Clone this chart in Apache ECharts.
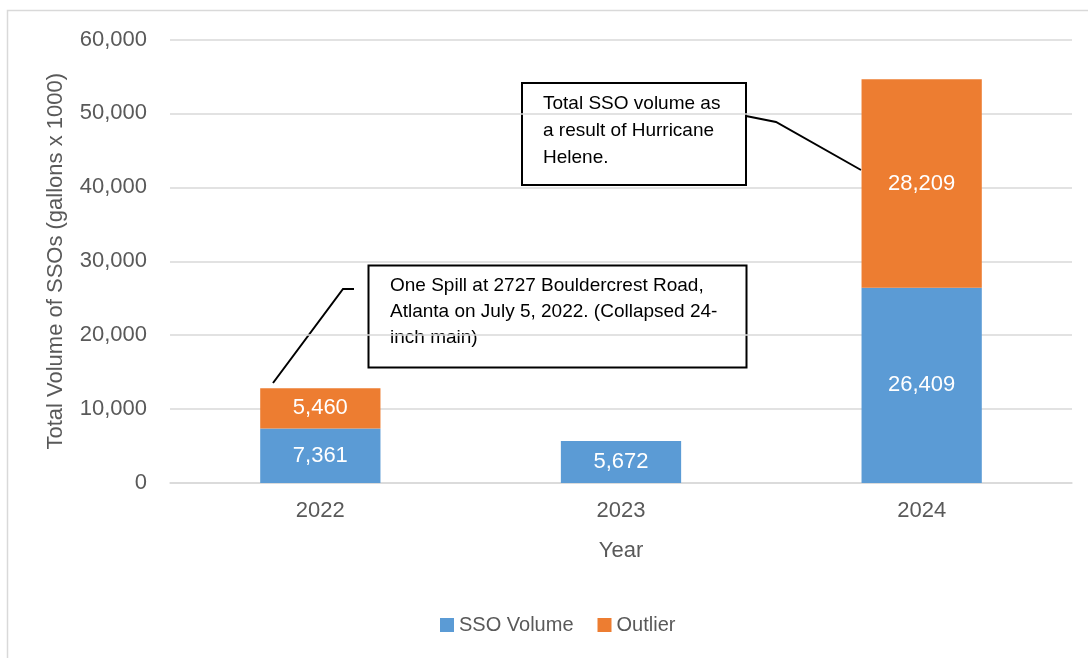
<!DOCTYPE html>
<html>
<head>
<meta charset="utf-8">
<script src="https://cdn.jsdelivr.net/npm/echarts@6/dist/echarts.min.js"></script>
<style>
  html, body { margin: 0; padding: 0; background: #fff; }
  #main { width: 1088px; height: 658px; }
</style>
</head>
<body>
<div id="main"></div>
<script>
// data
var years = ['2022', '2023', '2024'];
var ssoVolume = [7361, 5672, 26409];
var outlier = [5460, null, 28209];
var yTicks = [0, 10000, 20000, 30000, 40000, 50000, 60000];

var fontFam = '"Liberation Sans", Arial, sans-serif';
var grey = '#595959';

function fmt(v) {
  return v == null ? '' : v.toLocaleString('en-US');
}

var myChart = echarts.init(document.getElementById('main'));

myChart.setOption({
  animation: false,
  textStyle: { fontFamily: fontFam },
  grid: { left: 170, right: 16, top: 39.5, bottom: 175, containLabel: false },
  legend: {
    left: 435,
    top: 610,
    itemWidth: 14,
    itemHeight: 14,
    itemGap: 24,
    icon: 'rect',
    textStyle: { color: grey, fontSize: 20, fontFamily: fontFam },
    data: ['SSO Volume', 'Outlier']
  },
  xAxis: {
    type: 'category',
    data: years,
    name: 'Year',
    nameLocation: 'middle',
    nameGap: 57,
    nameTextStyle: { color: grey, fontSize: 22 },
    axisLine: { show: true, lineStyle: { color: '#d9d9d9', width: 1.5 } },
    axisTick: { show: false },
    axisLabel: { color: grey, fontSize: 22, margin: 17 }
  },
  yAxis: {
    type: 'value',
    min: yTicks[0],
    max: yTicks[yTicks.length - 1],
    interval: yTicks[1] - yTicks[0],
    name: 'Total Volume of SSOs (gallons x 1000)',
    nameLocation: 'middle',
    nameGap: 103,
    nameTextStyle: { color: grey, fontSize: 22 },
    axisLine: { show: false },
    axisTick: { show: false },
    axisLabel: { color: grey, fontSize: 22, margin: 23, formatter: fmt },
    splitLine: { lineStyle: { color: '#d9d9d9', width: 1.5 } }
  },
  series: [
    {
      name: 'SSO Volume',
      type: 'bar',
      stack: 'total',
      barWidth: '40%',
      itemStyle: { color: '#5B9BD5' },
      label: {
        show: true, position: 'inside', color: '#fff', fontSize: 22,
        formatter: function (p) { return fmt(p.value); }
      },
      data: ssoVolume
    },
    {
      name: 'Outlier',
      type: 'bar',
      stack: 'total',
      barWidth: '40%',
      itemStyle: { color: '#ED7D31' },
      label: {
        show: true, position: 'inside', color: '#fff', fontSize: 22,
        formatter: function (p) { return fmt(p.value); }
      },
      data: outlier
    }
  ],
  graphic: [
    // outer chart border
    {
      type: 'rect', silent: true,
      shape: { x: 7.5, y: 10.5, width: 1100, height: 700 },
      style: { fill: 'none', stroke: '#d9d9d9', lineWidth: 1.5 }
    },
    // callout 2022
    {
      type: 'polyline', silent: true,
      shape: { points: [[273, 383], [343, 289], [354, 289]] },
      style: { fill: 'none', stroke: '#000', lineWidth: 2 }
    },
    {
      type: 'rect', silent: true,
      shape: { x: 368.5, y: 265.5, width: 378, height: 102 },
      style: { fill: 'none', stroke: '#000', lineWidth: 2 }
    },
    {
      type: 'text', silent: true, left: 390, top: 273,
      style: {
        text: 'One Spill at 2727 Bouldercrest Road,\nAtlanta on July 5, 2022. (Collapsed 24-\ninch main)',
        fill: '#000', font: '19px ' + fontFam, lineHeight: 26
      }
    },
    // callout 2024
    {
      type: 'polyline', silent: true,
      shape: { points: [[746, 116], [776, 122], [861, 170]] },
      style: { fill: 'none', stroke: '#000', lineWidth: 2 }
    },
    {
      type: 'rect', silent: true,
      shape: { x: 522, y: 83, width: 224, height: 102 },
      style: { fill: 'none', stroke: '#000', lineWidth: 2 }
    },
    {
      type: 'text', silent: true, left: 543, top: 90,
      style: {
        text: 'Total SSO volume as\na result of Hurricane\nHelene.',
        fill: '#000', font: '19px ' + fontFam, lineHeight: 27
      }
    }
  ]
});
</script>
</body>
</html>
